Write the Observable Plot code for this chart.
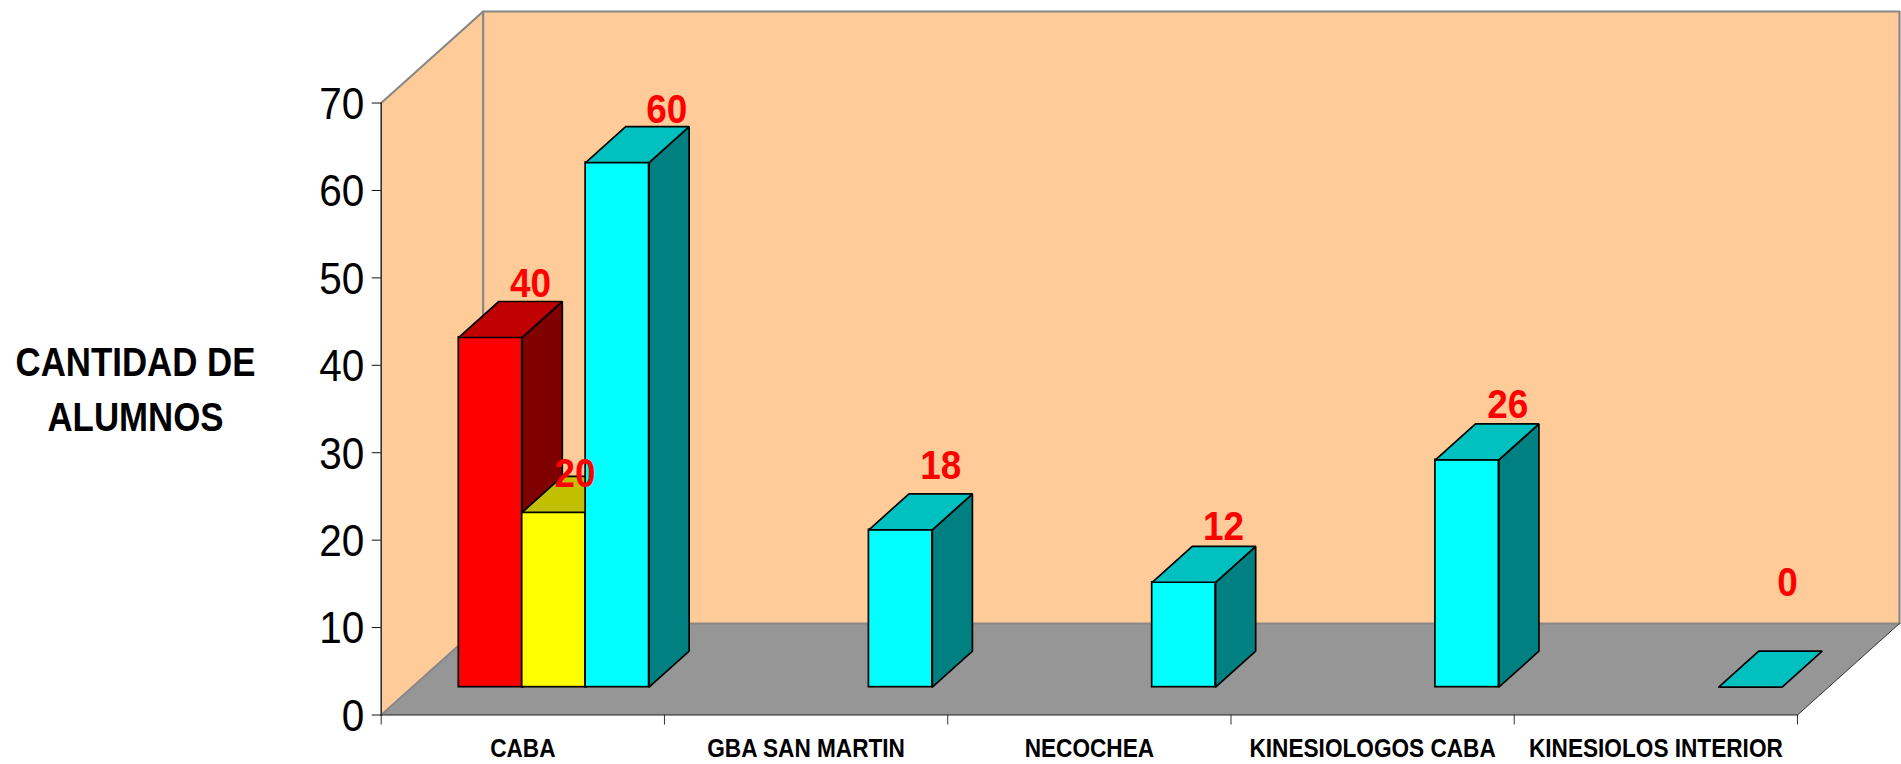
<!DOCTYPE html>
<html lang="es">
<head>
<meta charset="utf-8">
<title>Cantidad de alumnos</title>
<script src="https://cdn.jsdelivr.net/npm/d3@7"></script>
<script src="https://cdn.jsdelivr.net/npm/@observablehq/plot@0.6"></script>
<style>
  html, body { margin: 0; padding: 0; background: #fff; }
  svg { display: block; }
</style>
</head>
<body>
<div id="chart"></div>
<script>
const categories = ["CABA", "GBA SAN MARTIN", "NECOCHEA", "KINESIOLOGOS CABA", "KINESIOLOS INTERIOR"];
const redValues = [40, null, null, null, null];
const yellowValues = [20, null, null, null, null];
const cyanValues = [60, 18, 12, 26, 0];
const yTicks = [0, 10, 20, 30, 40, 50, 60, 70];
const yTitleLines = ["CANTIDAD DE", "ALUMNOS"];

// Palette: [front, side, top]
const redTones = ["#FF0000", "#800000", "#C00000"];
const yellowTones = ["#FFFF00", "#808000", "#C0C000"];
const cyanTones = ["#00FFFF", "#008080", "#00C0C0"];

// Oblique projection of the 3-D box, in data units
const depthX = 0.36, depthY = 10.47;
const barFront = 0.304, barBack = 0.697;
const gap = 0.1645, barWidth = 0.2239;
const xMax = categories.length + depthX, yTop = 70 + depthY;
const at = (x, v, d) => ({x: x + d * depthX, y: v + d * depthY});

const FONT = "'Liberation Sans', Arial, sans-serif";
const line = "#888888";
const n = categories.length;

const poly = (pts, o) => Plot.line([...pts, pts[0]], {x: "x", y: "y", ...o});
const path = (pts, o) => Plot.line(pts, {x: "x", y: "y", ...o});

const marks = [];
// Walls and floor
marks.push(poly([at(0, 0, 1), at(0, 70, 1), at(n, 70, 1), at(n, 0, 1)], {fill: "#FFCC99"}));
marks.push(poly([at(0, 0, 0), at(0, 70, 0), at(0, 70, 1), at(0, 0, 1)], {fill: "#FFCC99"}));
marks.push(poly([at(0, 0, 0), at(n, 0, 0), at(n, 0, 1), at(0, 0, 1)], {fill: "#969696"}));
marks.push(path([at(0, 0, 0), at(0, 0, 1), at(n, 0, 1)], {stroke: line, strokeWidth: 2}));
marks.push(path([at(0, 70, 0), at(0, 70, 1), at(n, 70, 1), at(n, 0, 1)], {stroke: line, strokeWidth: 2.2}));
marks.push(path([at(0, 70, 1), at(0, 0, 1)], {stroke: line, strokeWidth: 2.2}));
marks.push(path([at(n, 0, 0), at(n, 0, 1)], {stroke: "#333", strokeWidth: 1}));

// Bars, in series order
const series = [[redValues, redTones, 0], [yellowValues, yellowTones, 1], [cyanValues, cyanTones, 2]];
const dd = barBack - barFront;
for (const [values, tones, s] of series) {
  values.forEach((v, i) => {
    if (v == null) return;
    const x1 = i + gap + s * barWidth + barFront * depthX;
    const x2 = x1 + barWidth;
    const edge = {stroke: "black", strokeWidth: 1.7, strokeLinejoin: "miter"};
    if (v > 0) {
      marks.push(Plot.rect([{x1, x2, y1: barFront * depthY, y2: v + barFront * depthY}], {x1: "x1", x2: "x2", y1: "y1", y2: "y2", fill: tones[0], ...edge}));
      marks.push(poly([
        {x: x2, y: v + barFront * depthY}, {x: x2 + dd * depthX, y: v + barBack * depthY},
        {x: x2 + dd * depthX, y: barBack * depthY}, {x: x2, y: barFront * depthY}
      ], {fill: tones[1], ...edge}));
    }
    marks.push(poly([
      {x: x1, y: v + barFront * depthY}, {x: x2, y: v + barFront * depthY},
      {x: x2 + dd * depthX, y: v + barBack * depthY}, {x: x1 + dd * depthX, y: v + barBack * depthY}
    ], {fill: tones[2], ...edge}));
  });
}

// Front edge of the chart and axes
marks.push(path([at(0, 0, 0), at(0, 70, 0)], {stroke: "#333", strokeWidth: 1.6}));
marks.push(path([at(0, 0, 0), at(n, 0, 0)], {stroke: "#222", strokeWidth: 1.2}));
marks.push(Plot.axisY({ticks: yTicks, tickSize: 9, tickPadding: 8, label: null, fontSize: 45, fontFamily: FONT, stroke: "#111", color: "black"}));
marks.push(Plot.axisX({ticks: d3.range(n + 1), tickSize: 10, tickFormat: () => "", label: null, stroke: "#333"}));

// Category labels
marks.push(Plot.text(categories, {
  x: (d, i) => i + 0.5, text: d => d, frameAnchor: "bottom", dy: 41.5, className: "cat-label",
  fontFamily: FONT, fontWeight: "bold", fontSize: 26, fill: "black"
}));

// Value labels, hand-placed in the reference
const valueLabels = [
  [redValues, 0, 0, 0, -18],
  [yellowValues, 1, 0, -19, -2],
  [cyanValues, 2, 0, 9.4, -16.5],
  [cyanValues, 2, 1, 0, -28],
  [cyanValues, 2, 2, -0.5, -19],
  [cyanValues, 2, 3, 0.5, -19.5],
  [cyanValues, 2, 4, -3, -68]
];
for (const [values, s, i, dx, dy] of valueLabels) {
  const v = values[i];
  const x = i + gap + s * barWidth + barFront * depthX + barWidth / 2 + dd * depthX;
  marks.push(Plot.text([{x, y: v + barBack * depthY, t: String(v)}], {
    x: "x", y: "y", text: "t", dx, dy, className: "val-label",
    fontFamily: FONT, fontWeight: "bold", fontSize: 41, fill: "#FF0000"
  }));
}

// Y title, two lines
yTitleLines.forEach((t, k) => {
  marks.push(Plot.text([t], {
    frameAnchor: "left", textAnchor: "middle", dx: -245.7, dy: k * 55, className: "y-title",
    fontFamily: FONT, fontWeight: "bold", fontSize: 41, fill: "black"
  }));
});

const chart = Plot.plot({
  width: 1901,
  height: 764,
  marginLeft: 380.7,
  marginRight: 2,
  marginTop: 11,
  marginBottom: 49.5,
  style: {background: "white", fontFamily: FONT, overflow: "visible"},
  x: {domain: [0, xMax], label: null},
  y: {domain: [0, yTop], label: null},
  marks
});
document.getElementById("chart").append(chart);

// The reference's type is horizontally condensed
function condense(selector, ratio) {
  chart.querySelectorAll(selector).forEach(el => {
    const w = el.getComputedTextLength();
    el.setAttribute("textLength", (w * ratio).toFixed(2));
    el.setAttribute("lengthAdjust", "spacingAndGlyphs");
  });
}
condense('g[aria-label="y-axis tick label"] text', 0.9);
condense(".cat-label text", 0.87);
condense(".val-label text", 0.9);
condense(".y-title text", 0.85);
const tickGroup = chart.querySelector('g[aria-label="y-axis tick label"]');
tickGroup.setAttribute("transform", `${tickGroup.getAttribute("transform") || ""} translate(0,1.5)`);
</script>
</body>
</html>
